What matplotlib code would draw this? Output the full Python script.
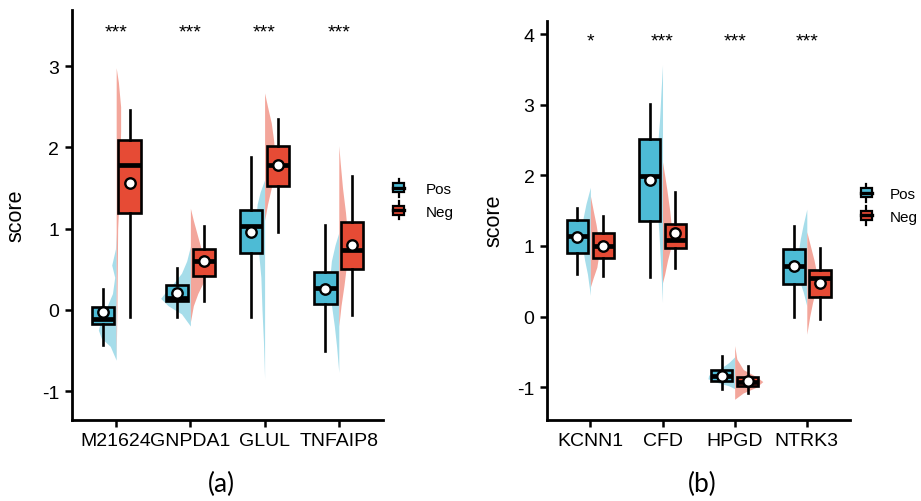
import matplotlib
matplotlib.use('Agg')
import matplotlib.pyplot as plt
from matplotlib.legend_handler import HandlerBase
from matplotlib.patches import Rectangle, Patch
from matplotlib.lines import Line2D

plt.rcParams['font.family'] = ['Liberation Sans', 'DejaVu Sans']

# ---- panel (a) data ----
genes_a = ['M21624', 'GNPDA1', 'GLUL', 'TNFAIP8']
stars_a = ['***', '***', '***', '***']
# whislo, q1, med, q3, whishi, mean
pos_a = [(-0.43, -0.176, -0.114, 0.037, 0.255, -0.032),
         (-0.094, 0.111, 0.144, 0.304, 0.513, 0.205),
         (-0.086, 0.694, 1.026, 1.226, 1.882, 0.96),
         (-0.504, 0.07, 0.263, 0.467, 1.042, 0.255)]
neg_a = [(-0.094, 1.186, 1.78, 2.091, 2.456, 1.555),
         (0.111, 0.411, 0.603, 0.747, 1.033, 0.595),
         (0.952, 1.525, 1.784, 2.017, 2.354, 1.784),
         (-0.065, 0.5, 0.738, 1.075, 1.648, 0.796)]
# half violin outlines: y levels and half widths
pos_a_vy = [[0.95, 0.75, 0.55, 0.40, 0.2, 0.05, -0.1, -0.25, -0.35, -0.45, -0.62],
            [0.78, 0.6, 0.45, 0.3, 0.2, 0.14, 0.05, -0.05, -0.2],
            [1.6, 1.45, 1.3, 1.1, 0.9, 0.7, 0.4, 0.0, -0.4, -0.85],
            [0.95, 0.8, 0.6, 0.4, 0.2, 0.0, -0.2, -0.45, -0.77]]
pos_a_vw = [[0, 0.01, 0.06, 0.02, 0.05, 0.12, 0.2, 0.24, 0.2, 0.08, 0],
            [0, 0.05, 0.12, 0.25, 0.35, 0.4, 0.3, 0.12, 0],
            [0, 0.06, 0.1, 0.12, 0.11, 0.08, 0.05, 0.035, 0.015, 0],
            [0, 0.05, 0.1, 0.12, 0.12, 0.09, 0.06, 0.03, 0]]
neg_a_vy = [[2.98, 2.8, 2.5, 2.2, 1.8, 1.4, 1.0, 0.5, 0.0, -0.3, -0.6],
            [1.25, 1.1, 0.9, 0.7, 0.5, 0.35, 0.2, 0.05, -0.15],
            [2.67, 2.5, 2.3, 2.1, 1.9, 1.7, 1.5, 1.3, 1.1],
            [2.02, 1.8, 1.5, 1.2, 0.9, 0.6, 0.3, 0.05, -0.2]]
neg_a_vw = [[0, 0.03, 0.06, 0.06, 0.05, 0.04, 0.02, 0.015, 0.01, 0.005, 0],
            [0, 0.04, 0.1, 0.16, 0.2, 0.18, 0.1, 0.04, 0],
            [0, 0.04, 0.09, 0.12, 0.14, 0.13, 0.09, 0.04, 0],
            [0, 0.02, 0.05, 0.09, 0.12, 0.11, 0.07, 0.03, 0]]

# ---- panel (b) data ----
genes_b = ['KCNN1', 'CFD', 'HPGD', 'NTRK3']
stars_b = ['*', '***', '***', '***']
pos_b = [(0.605, 0.902, 1.139, 1.374, 1.535, 1.13),
         (0.567, 1.351, 1.997, 2.513, 3.013, 1.936),
         (-1.024, -0.915, -0.845, -0.75, -0.552, -0.835),
         (-0.009, 0.463, 0.722, 0.959, 1.289, 0.715)]
neg_b = [(0.572, 0.827, 1.006, 1.181, 1.422, 1.006),
         (0.685, 0.969, 1.091, 1.313, 1.762, 1.181),
         (-1.085, -0.986, -0.92, -0.85, -0.703, -0.915),
         (-0.033, 0.283, 0.543, 0.666, 0.969, 0.477)]
pos_b_vy = [[1.83, 1.6, 1.4, 1.2, 1.0, 0.8, 0.6, 0.3],
            [3.56, 3.2, 2.8, 2.4, 2.0, 1.6, 1.2, 0.8, 0.5, 0.2],
            [-0.57, -0.65, -0.75, -0.83, -0.88, -0.93, -0.98, -1.02],
            [1.52, 1.3, 1.1, 0.9, 0.7, 0.5, 0.35, 0.15]]
pos_b_vw = [[0, 0.06, 0.1, 0.115, 0.11, 0.08, 0.04, 0],
            [0, 0.02, 0.04, 0.07, 0.09, 0.08, 0.05, 0.03, 0.015, 0],
            [0, 0.08, 0.22, 0.36, 0.37, 0.25, 0.08, 0],
            [0, 0.05, 0.09, 0.12, 0.13, 0.1, 0.05, 0]]
neg_b_vy = [[1.71, 1.5, 1.3, 1.1, 0.9, 0.7, 0.55, 0.42],
            [2.19, 2.0, 1.8, 1.5, 1.2, 1.0, 0.8, 0.6, 0.48],
            [-0.41, -0.6, -0.75, -0.85, -0.92, -1.0, -1.08, -1.17],
            [1.2, 1.0, 0.8, 0.6, 0.4, 0.2, 0.0, -0.25]]
neg_b_vw = [[0, 0.04, 0.08, 0.11, 0.12, 0.09, 0.04, 0],
            [0, 0.03, 0.06, 0.1, 0.13, 0.12, 0.07, 0.03, 0],
            [0, 0.03, 0.12, 0.3, 0.39, 0.3, 0.12, 0],
            [0, 0.05, 0.1, 0.14, 0.13, 0.08, 0.04, 0]]

groups = ['Pos', 'Neg']
box_colors = ['#4DBBD5', '#E64B35']
violin_colors = ['#A6DDEA', '#F3A69B']


class BoxHandler(HandlerBase):
    # small boxplot glyph for the legend keys
    def create_artists(self, legend, orig_handle, xdescent, ydescent,
                       width, height, fontsize, trans):
        cx = width / 2 - xdescent
        cy = height / 2 - ydescent
        bw = width * 0.5
        bh = height * 0.66
        whisk = Line2D([cx, cx], [cy - height * 0.66, cy + height * 0.66],
                       color='black', lw=1.6, transform=trans)
        box = Rectangle((cx - bw / 2, cy - bh / 2), bw, bh,
                        facecolor=orig_handle.get_facecolor(),
                        edgecolor='black', lw=1.6, transform=trans)
        med = Line2D([cx - bw / 2, cx + bw / 2], [cy, cy],
                     color='black', lw=2.4, transform=trans)
        return [whisk, box, med]


def draw_panel(ax, genes, stars, pos, neg, vys, vws, ylim, yticks, star_y, label_x):
    xs = list(range(1, len(genes) + 1))
    offs = [-0.18, 0.18]
    sides = [-1, 1]
    for g, data in enumerate([pos, neg]):
        vy, vw = vys[g], vws[g]
        for i, x in enumerate(xs):
            edge = [x + sides[g] * w for w in vw[i]]
            ax.fill_betweenx(vy[i], x, edge, color=violin_colors[g],
                             lw=0, zorder=1)
        stats = [dict(whislo=d[0], q1=d[1], med=d[2], q3=d[3], whishi=d[4],
                      mean=d[5], fliers=[]) for d in data]
        ax.bxp(stats, positions=[x + offs[g] for x in xs], widths=0.3,
               patch_artist=True, showcaps=False, showmeans=True,
               manage_ticks=False, zorder=3,
               boxprops=dict(edgecolor='black', lw=1.9,
                             facecolor=box_colors[g]),
               whiskerprops=dict(color='black', lw=1.9),
               medianprops=dict(color='black', lw=3.4,
                                solid_capstyle='butt'),
               meanprops=dict(marker='o', markerfacecolor='white',
                              markeredgecolor='black', markersize=7.5,
                              markeredgewidth=1.7))
    for x, s in zip(xs, stars):
        ax.annotate(s, (x, star_y), xytext=(0, -8.5), textcoords='offset points',
                    ha='center', va='baseline', fontsize=14)
    ax.set_xlim(0.4, 4.6)
    ax.set_ylim(*ylim)
    ax.set_xticks(xs)
    ax.set_xticklabels(genes)
    ax.set_yticks(yticks)
    ax.set_yticklabels([str(t) for t in yticks])
    ax.set_ylabel('score', fontsize=15.5)
    ax.yaxis.set_label_coords(label_x, 0.5)
    for sp in ['top', 'right']:
        ax.spines[sp].set_visible(False)
    for sp in ['left', 'bottom']:
        ax.spines[sp].set_linewidth(2)
    ax.tick_params(axis='both', direction='out', length=5, width=1.8,
                   labelsize=14, colors='black', pad=4)


fig = plt.figure(figsize=(9.21, 5.02), dpi=100)
ax1 = fig.add_axes([0.0778, 0.162, 0.3384, 0.816])
ax2 = fig.add_axes([0.594, 0.162, 0.329, 0.795])

draw_panel(ax1, genes_a, stars_a, pos_a, neg_a, [pos_a_vy, neg_a_vy],
           [pos_a_vw, neg_a_vw], (-1.353, 3.69), [-1, 0, 1, 2, 3], 3.51, -0.145)
draw_panel(ax2, genes_b, stars_b, pos_b, neg_b, [pos_b_vy, neg_b_vy],
           [pos_b_vw, neg_b_vw], (-1.459, 4.19), [-1, 0, 1, 2, 3, 4], 4.0, -0.14)

handles = [Patch(facecolor=c) for c in box_colors]
for ax, lx, ly, pad in [(ax1, 0.421, 0.600, 1.05), (ax2, 0.9285, 0.590, 0.8)]:
    ax.legend(handles, groups, handler_map={Patch: BoxHandler()},
              loc='center left', bbox_to_anchor=(lx, ly),
              bbox_transform=fig.transFigure, frameon=False, fontsize=11,
              handlelength=1.45, handleheight=1.0, handletextpad=pad,
              labelspacing=0.5, borderpad=0, borderaxespad=0)

fig.text(0.2407, 0.034, '(a)', ha='center', va='center', fontsize=19,
         family=['Lato', 'DejaVu Sans'])
fig.text(0.762, 0.034, '(b)', ha='center', va='center', fontsize=19,
         family=['Lato', 'DejaVu Sans'])

fig.savefig('out.png', dpi=100)
